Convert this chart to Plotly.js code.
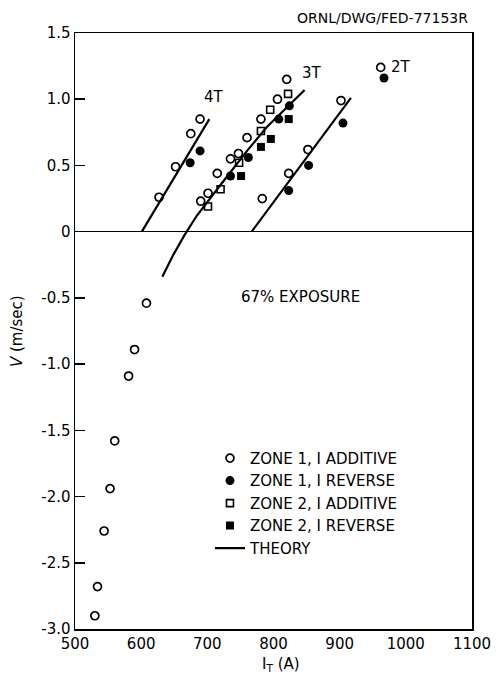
<!DOCTYPE html>
<html>
<head>
<meta charset="utf-8">
<script src="https://cdn.plot.ly/plotly-3.0.1.min.js"></script>
<style>html,body{margin:0;padding:0;background:#fff;}#chart{width:496px;height:681px;}</style>
</head>
<body>
<div id="chart"></div>
<script>
// Zone 1, I additive (open circles)
const z1AddX = [820, 689, 675, 652, 627, 806, 781, 760, 747, 735, 715, 701, 690, 783, 823, 852, 902, 962,
                608, 590, 581, 560, 553, 544, 534, 530];
const z1AddY = [1.15, 0.85, 0.74, 0.49, 0.26, 1.00, 0.85, 0.71, 0.59, 0.55, 0.44, 0.29, 0.23, 0.25, 0.44, 0.62, 0.99, 1.24,
                -0.54, -0.89, -1.09, -1.58, -1.94, -2.26, -2.68, -2.90];
// Zone 1, I reverse (filled circles)
const z1RevX = [824, 808, 762, 735, 689, 674, 853, 823, 905, 967];
const z1RevY = [0.95, 0.85, 0.56, 0.42, 0.61, 0.52, 0.50, 0.31, 0.82, 1.16];
// Zone 2, I additive (open squares)
const z2AddX = [822, 795, 781, 748, 720, 701];
const z2AddY = [1.04, 0.92, 0.76, 0.52, 0.32, 0.19];
// Zone 2, I reverse (filled squares)
const z2RevX = [823, 796, 781, 751];
const z2RevY = [0.85, 0.70, 0.64, 0.42];
// Theory curves
const th4X = [601, 703];
const th4Y = [0, 0.85];
const th3X = [632, 648, 665, 684, 721, 760, 790, 847];
const th3Y = [-0.34, -0.18, -0.03, 0.12, 0.36, 0.61, 0.79, 1.07];
const th2X = [767, 917];
const th2Y = [0, 1.01];
// Curve labels
const curveLabels = ["4T", "3T", "2T"];
const curveLabelX = [710, 858, 993];
const curveLabelY = [1.02, 1.20, 1.24];
// Axis ticks
const yTickVals = [1.5, 1.0, 0.5, 0, -0.5, -1.0, -1.5, -2.0, -2.5, -3.0];
const yTickText = ["1.5", "1.0", "0.5", "0", "-0.5", "-1.0", "-1.5", "-2.0", "-2.5", "-3.0"];
const xTickVals = [500, 600, 700, 800, 900, 1000, 1100];
const xTickText = ["500", "600", "700", "800", "900", "1000", "1100"];

const FONT = "DejaVu Sans, Liberation Sans, sans-serif";

const traces = [
  {x: z1AddX, y: z1AddY, mode: "markers", type: "scatter", name: "ZONE 1, I ADDITIVE",
   marker: {symbol: "circle-open", size: 8, color: "#000", line: {width: 1.7, color: "#000"}}},
  {x: z1RevX, y: z1RevY, mode: "markers", type: "scatter", name: "ZONE 1, I REVERSE",
   marker: {symbol: "circle", size: 9, color: "#000"}},
  {x: z2AddX, y: z2AddY, mode: "markers", type: "scatter", name: "ZONE 2, I ADDITIVE",
   marker: {symbol: "square-open", size: 7, color: "#000", line: {width: 1.6, color: "#000"}}},
  {x: z2RevX, y: z2RevY, mode: "markers", type: "scatter", name: "ZONE 2, I REVERSE",
   marker: {symbol: "square", size: 8, color: "#000"}},
  {x: th4X, y: th4Y, mode: "lines", type: "scatter", name: "THEORY", legendgroup: "th",
   line: {color: "#000", width: 2.2}},
  {x: th3X, y: th3Y, mode: "lines", type: "scatter", name: "THEORY", legendgroup: "th", showlegend: false,
   line: {color: "#000", width: 2.2}},
  {x: th2X, y: th2Y, mode: "lines", type: "scatter", name: "THEORY", legendgroup: "th", showlegend: false,
   line: {color: "#000", width: 2.2}}
];

const annotations = curveLabels.map((t, i) => ({
  x: curveLabelX[i], y: curveLabelY[i], xref: "x", yref: "y", text: t, showarrow: false,
  font: {family: FONT, size: 15, color: "#000"}
}));
annotations.push(
  {x: 841, y: -0.49, xref: "x", yref: "y", text: "67% EXPOSURE", showarrow: false,
   font: {family: FONT, size: 15, color: "#000"}},
  {x: 0.995, y: 1.025, xref: "paper", yref: "paper", xanchor: "right", yanchor: "middle",
   text: "ORNL/DWG/FED-77153R", showarrow: false, font: {family: FONT, size: 14, color: "#000"}},
  {x: -0.146, y: 0.5, xref: "paper", yref: "paper", textangle: -90, xanchor: "center", yanchor: "middle",
   text: "<i>V</i> (m/sec)", showarrow: false, font: {family: FONT, size: 15, color: "#000"}},
  {x: 0.519, y: -0.06, xref: "paper", yref: "paper", xanchor: "center", yanchor: "middle",
   text: "I<sub>T</sub> (A)", showarrow: false, font: {family: FONT, size: 15, color: "#000"}}
);

const layout = {
  width: 496, height: 681,
  margin: {l: 75, r: 24, t: 33, b: 52},
  paper_bgcolor: "#fff", plot_bgcolor: "#fff",
  showlegend: true,
  legend: {x: 0.34, y: 0.314, xanchor: "left", yanchor: "top", bgcolor: "rgba(0,0,0,0)",
           font: {family: FONT, size: 15, color: "#000"}, tracegroupgap: 0},
  xaxis: {range: [500, 1100], tickvals: xTickVals, ticktext: xTickText, ticks: "",
          showline: true, linecolor: "#000", linewidth: 1.5, mirror: true, showgrid: false, zeroline: false,
          tickfont: {family: FONT, size: 15, color: "#000"}, fixedrange: true},
  yaxis: {range: [-3.0, 1.5], tickvals: yTickVals, ticktext: yTickText, ticks: "inside", ticklen: 10,
          tickwidth: 1.5, tickcolor: "#000",
          showline: true, linecolor: "#000", linewidth: 1.5, mirror: true, showgrid: false,
          zeroline: true, zerolinecolor: "#000", zerolinewidth: 1.5,
          tickfont: {family: FONT, size: 15, color: "#000"}, fixedrange: true},
  annotations: annotations
};

Plotly.newPlot("chart", traces, layout, {displayModeBar: false, staticPlot: true});
</script>
</body>
</html>
